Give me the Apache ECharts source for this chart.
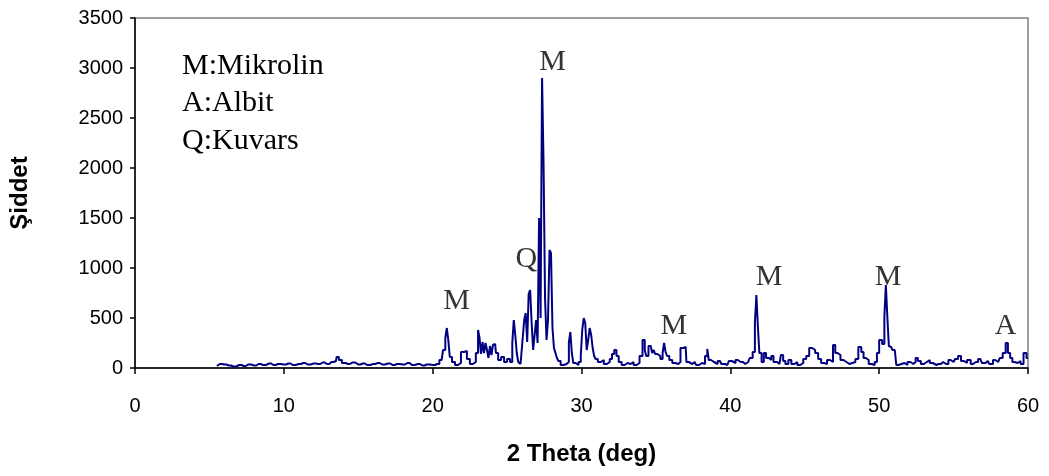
<!DOCTYPE html>
<html>
<head>
<meta charset="utf-8">
<script src="https://cdn.jsdelivr.net/npm/echarts@6/dist/echarts.min.js"></script>
<style>
    html, body { margin: 0; padding: 0; background: #fff; }
    #xrd { width: 1049px; height: 476px; }
</style>
</head>
<body>
<div id="xrd"></div>
<script>
// 2 theta positions (deg) and measured intensity
const twoTheta = [
    5.5, 5.7, 6.0, 6.3, 6.6, 7.0, 7.3, 7.6, 8.0, 8.3, 8.6, 9.0, 9.3, 9.6, 10.0, 10.3, 10.6, 11.0, 11.3, 11.6,
    12.0, 12.3, 12.6, 12.9, 13.2, 13.5, 13.6, 13.8, 14.0, 14.3, 14.6, 15.0, 15.3, 15.6, 16.0, 16.3, 16.6, 17.0,
    17.3, 17.6, 18.0, 18.3, 18.6, 19.0, 19.3, 19.6, 20.0, 20.3, 20.6, 20.8, 20.9, 21.0, 21.1, 21.2, 21.4, 21.6,
    21.8, 22.0, 22.2, 22.4, 22.6, 22.8, 23.0, 23.1, 23.2, 23.3, 23.4, 23.5, 23.6, 23.7, 23.8, 23.9, 24.0, 24.1,
    24.2, 24.3, 24.5, 24.7, 24.9, 25.1, 25.3, 25.4, 25.5, 25.6, 25.7, 25.8, 25.9, 26.0, 26.1, 26.2, 26.3, 26.4,
    26.5, 26.6, 26.7, 26.8, 26.9, 27.0, 27.1, 27.2, 27.3, 27.4, 27.5, 27.6, 27.7, 27.8, 27.9, 28.0, 28.1, 28.2,
    28.3, 28.4, 28.5, 28.7, 28.9, 29.1, 29.2, 29.3, 29.4, 29.5, 29.7, 29.9, 30.0, 30.1, 30.2, 30.3, 30.4, 30.5,
    30.6, 30.7, 30.8, 30.9, 31.0, 31.2, 31.4, 31.6, 31.8, 32.0, 32.1, 32.3, 32.4, 32.6, 32.8, 33.0, 33.2, 33.4,
    33.6, 33.8, 34.0, 34.2, 34.3, 34.4, 34.6, 34.7, 34.8, 34.9, 35.0, 35.2, 35.4, 35.5, 35.6, 35.7, 35.8, 36.0,
    36.2, 36.4, 36.6, 36.7, 37.0, 37.1, 37.3, 37.6, 37.8, 38.0, 38.2, 38.4, 38.5, 38.6, 38.8, 39.0, 39.3, 39.5,
    39.8, 40.0, 40.2, 40.5, 40.7, 41.0, 41.2, 41.4, 41.6, 41.7, 41.8, 41.9, 42.0, 42.2, 42.3, 42.5, 42.7, 42.8,
    43.0, 43.3, 43.5, 43.6, 43.8, 44.0, 44.2, 44.4, 44.6, 44.8, 45.0, 45.2, 45.4, 45.6, 45.8, 46.0, 46.2, 46.4,
    46.6, 46.8, 47.0, 47.1, 47.3, 47.5, 47.7, 47.9, 48.1, 48.3, 48.5, 48.7, 48.9, 49.0, 49.2, 49.4, 49.6, 49.8,
    49.9, 50.1, 50.3, 50.4, 50.5, 50.6, 50.7, 50.8, 51.0, 51.1, 51.2, 51.4, 51.6, 51.8, 52.0, 52.2, 52.4, 52.5,
    52.7, 52.9, 53.1, 53.3, 53.5, 53.7, 54.0, 54.3, 54.5, 54.8, 55.0, 55.2, 55.4, 55.6, 55.8, 56.0, 56.3, 56.5,
    56.8, 57.0, 57.3, 57.5, 57.8, 58.0, 58.2, 58.4, 58.6, 58.7, 58.9, 59.0, 59.2, 59.4, 59.6, 59.8, 60.0
];
const intensity = [
    20, 40, 35, 25, 15, 30, 20, 35, 25, 40, 30, 45, 30, 40, 35, 45, 30, 40, 50, 35,
    45, 40, 55, 40, 60, 70, 110, 80, 50, 40, 55, 35, 45, 30, 40, 50, 35, 45,
    30, 40, 35, 50, 30, 40, 25, 35, 30, 40, 80, 180, 300, 400, 280, 110, 60, 30,
    50, 160, 170, 90, 40, 60, 150, 380, 300, 140, 260, 150, 250, 180, 100, 220, 130, 230,
    240, 150, 80, 110, 60, 90, 60, 250, 480, 330, 150, 60, 40, 120, 300, 480, 550, 260,
    740, 780, 450, 180, 330, 480, 250, 1500, 500, 2900, 2050, 700, 280, 480, 1180, 1150, 400, 200,
    150, 100, 70, 30, 40, 60, 250, 360, 150, 50, 30, 60, 120, 380, 500, 450, 180, 280,
    400, 330, 200, 120, 90, 60, 80, 40, 60, 90, 140, 180, 120, 60, 30, 50, 40, 60,
    30, 50, 120, 280, 180, 120, 220, 230, 150, 180, 140, 120, 90, 150, 250, 160, 120, 80,
    50, 40, 60, 200, 210, 60, 40, 60, 30, 50, 40, 120, 190, 80, 60, 40, 70, 40,
    30, 70, 50, 80, 60, 40, 60, 100, 160, 450, 730, 420, 150, 60, 150, 100, 80, 120,
    60, 40, 130, 70, 40, 80, 40, 60, 30, 50, 90, 120, 200, 180, 150, 90, 50, 40,
    80, 60, 230, 150, 130, 80, 60, 40, 50, 60, 90, 210, 160, 100, 80, 40, 30, 60,
    150, 280, 240, 510, 830, 510, 220, 210, 180, 170, 30, 40, 50, 30, 60, 40, 60, 100,
    70, 40, 60, 80, 50, 30, 40, 60, 40, 80, 60, 90, 120, 70, 50, 80, 40, 60,
    90, 50, 70, 40, 80, 60, 100, 150, 250, 150, 100, 60, 50, 70, 40, 150, 100
];

// phase markers above the peaks
const peakNames = ['M', 'Q', 'M', 'M', 'M', 'M', 'A'];
const peakTheta = [21.6, 26.3, 28.05, 36.2, 42.6, 50.6, 58.5];
const peakLevel = [670, 1090, 3060, 420, 910, 910, 420];

const legendLines = ['M:Mikrolin', 'A:Albit', 'Q:Kuvars'];

const chart = echarts.init(document.getElementById('xrd'));

const trace = twoTheta.map((t, i) => [t, intensity[i]]);
const markers = peakTheta.map((t, i) => ({ value: [t, peakLevel[i]], name: peakNames[i] }));

chart.setOption({
    animation: false,
    backgroundColor: '#fff',
    textStyle: {
        fontFamily: 'Liberation Sans, Arial, sans-serif'
    },
    title: {
        text: legendLines.join('\n'),
        left: 177,
        top: 42,
        textStyle: {
            fontFamily: 'Liberation Serif, Times New Roman, serif',
            fontWeight: 'normal',
            fontSize: 30,
            lineHeight: 37.5,
            color: '#000'
        }
    },
    grid: {
        left: 135,
        right: 21,
        top: 18,
        bottom: 108,
        show: true,
        borderColor: '#808080',
        borderWidth: 1.5
    },
    xAxis: {
        type: 'value',
        min: 0,
        max: 60,
        interval: 10,
        name: '2 Theta (deg)',
        nameLocation: 'middle',
        nameGap: 74,
        nameTextStyle: {
            fontSize: 24,
            fontWeight: 'bold',
            color: '#000'
        },
        axisLine: { lineStyle: { color: '#000', width: 1.5 } },
        axisTick: { length: 6, lineStyle: { color: '#000', width: 1.5 } },
        axisLabel: { fontSize: 20, color: '#000', margin: 28 },
        splitLine: { show: false }
    },
    yAxis: {
        type: 'value',
        min: 0,
        max: 3500,
        interval: 500,
        name: 'Şiddet',
        nameLocation: 'middle',
        nameGap: 103,
        nameTextStyle: {
            fontSize: 24,
            fontWeight: 'bold',
            color: '#000'
        },
        axisLine: { show: true, lineStyle: { color: '#000', width: 1.5 } },
        axisTick: { show: true, length: 5, lineStyle: { color: '#000', width: 1.5 } },
        axisLabel: { fontSize: 20, color: '#000', margin: 12, formatter: v => String(v) },
        splitLine: { show: false }
    },
    series: [
        {
            name: 'XRD',
            type: 'line',
            step: 'middle',
            data: trace,
            showSymbol: false,
            lineStyle: { color: '#000080', width: 2 },
            z: 3
        },
        {
            name: 'peaks',
            type: 'scatter',
            data: markers,
            symbolSize: 0,
            label: {
                show: true,
                position: 'inside',
                formatter: p => p.data.name,
                fontFamily: 'Liberation Serif, Times New Roman, serif',
                fontSize: 30,
                color: '#000'
            },
            emphasis: { disabled: true },
            z: 4
        }
    ]
});
</script>
</body>
</html>
